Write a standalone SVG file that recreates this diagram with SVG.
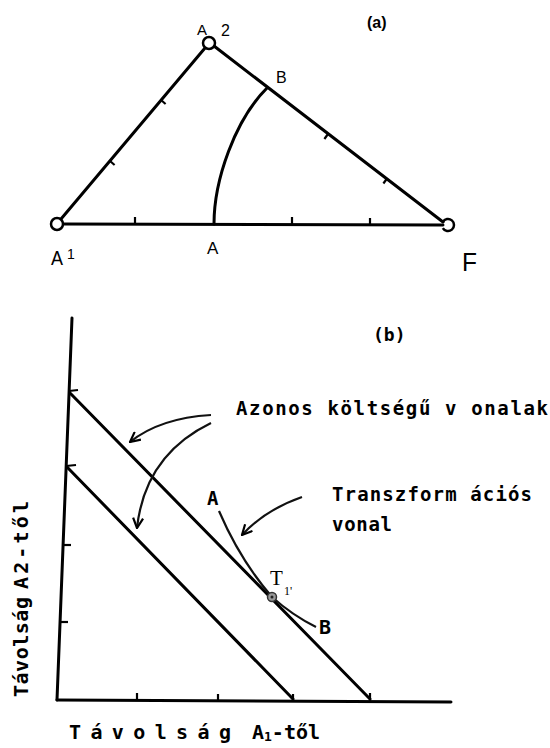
<svg xmlns="http://www.w3.org/2000/svg" width="550" height="748" viewBox="0 0 550 748">
<defs>
<style>
.ln{stroke:#000;stroke-width:3;fill:none;stroke-linecap:round}
.tk{stroke:#000;stroke-width:2.2;fill:none}
.cv{stroke:#111;stroke-width:2.2;fill:none}
.nd{stroke:#000;stroke-width:2.5;fill:#fff}
.ndo{stroke:#000;stroke-width:2.5;fill:none}
.sa{font-family:"Liberation Sans","DejaVu Sans",sans-serif;fill:#000}
.tw{font-family:"DejaVu Sans Mono","Liberation Mono",monospace;font-weight:bold;fill:#000}
.tn{font-family:"Liberation Serif","DejaVu Serif",serif;fill:#000}
</style>
<marker id="ah" viewBox="0 0 12 12" refX="11" refY="6" markerWidth="12" markerHeight="12" markerUnits="userSpaceOnUse" orient="auto">
<path d="M1,1 L11,6 L1,11" fill="none" stroke="#000" stroke-width="2.2"/>
</marker>
</defs>
<rect width="550" height="748" fill="#fff"/>

<!-- Panel (a) -->
<g id="connectors-a">
<line class="ln" x1="61" y1="219" x2="205" y2="48"/>
<line class="ln" x1="214" y1="46" x2="443" y2="222"/>
<line class="ln" x1="63" y1="224" x2="443" y2="225"/>
<path class="ln" d="M214,224 C214,180 235,120 267,88"/>
<g class="tk">
<line x1="161" y1="100" x2="165.6" y2="104"/>
<line x1="110" y1="161" x2="114.6" y2="165"/>
<line x1="328" y1="134" x2="324.4" y2="139"/>
<line x1="387" y1="178.5" x2="383.4" y2="183.5"/>
<line x1="135" y1="224" x2="135" y2="217"/>
<line x1="292" y1="224" x2="292" y2="217"/>
<line x1="370" y1="225" x2="370" y2="218"/>
</g>
</g>
<g id="node-A2"><circle class="nd" cx="209" cy="43" r="6"/><text class="sa" x="197" y="35" font-size="15">A</text><text class="sa" x="221" y="36" font-size="16">2</text></g>
<g id="node-A1"><circle class="nd" cx="57" cy="224" r="6"/><text class="sa" x="51" y="265" font-size="21" textLength="12" lengthAdjust="spacingAndGlyphs">A</text><text class="sa" x="67" y="259" font-size="14">1</text></g>
<g id="node-F"><path class="ndo" d="M442.8,222 A6,6 0 1 1 442.8,228"/><text class="sa" x="462" y="271" font-size="25" textLength="15" lengthAdjust="spacingAndGlyphs">F</text></g>
<g id="node-B"><text class="sa" x="276" y="83" font-size="16">B</text></g>
<g id="node-A"><text class="sa" x="207" y="254" font-size="17">A</text></g>
<text class="sa" x="367" y="28" font-size="16" font-weight="bold">(a)</text>

<!-- Panel (b) -->
<g id="axes">
<line class="ln" x1="72" y1="318" x2="57" y2="700"/>
<line class="ln" x1="57" y1="700" x2="451" y2="702"/>
<g class="tk">
<line x1="69" y1="391" x2="78" y2="390"/>
<line x1="66" y1="466" x2="76" y2="465"/>
<line x1="63" y1="545" x2="71" y2="545"/>
<line x1="60" y1="622" x2="68" y2="622"/>
<line x1="137" y1="700" x2="137" y2="693"/>
<line x1="218" y1="701" x2="218" y2="694"/>
<line x1="293" y1="701" x2="293" y2="694"/>
<line x1="370" y1="701" x2="370" y2="693"/>
</g>
</g>
<g id="connectors-b">
<line class="ln" x1="70" y1="393" x2="370" y2="699"/>
<line class="ln" x1="67" y1="467" x2="293" y2="699"/>
<path class="cv" d="M219,511 Q240,560 272,597 Q292,615 316,627"/>
<path class="cv" d="M211,415 Q160,418 130,442" marker-end="url(#ah)"/>
<path class="cv" d="M211,423 Q145,455 137,528" marker-end="url(#ah)"/>
<path class="cv" d="M302,497 Q265,510 242,535" stroke-width="1.8" marker-end="url(#ah)"/>
</g>
<g id="node-T1"><circle cx="272" cy="597" r="4.5" fill="#999" stroke="#333" stroke-width="1.5"/><circle cx="272" cy="597" r="1.5" fill="#222"/><text class="tn" x="270" y="585" font-size="21">T</text><text class="tn" x="284" y="595" font-size="12">1'</text></g>
<g id="label-A"><text class="tw" x="207" y="505" font-size="19">A</text></g>
<g id="label-B"><text class="tw" x="319" y="634" font-size="20">B</text></g>
<text class="tw" x="373" y="341" font-size="18">(b)</text>
<text class="tw" x="236" y="415" font-size="19" textLength="312" lengthAdjust="spacing">Azonos költségű v onalak</text>
<text class="tw" x="332" y="501" font-size="19" textLength="200" lengthAdjust="spacing">Transzform ációs</text>
<text class="tw" x="332" y="531" font-size="19" textLength="60" lengthAdjust="spacing">vonal</text>
<g id="x-label"><text class="tw" x="69" y="739" font-size="20" textLength="162" lengthAdjust="spacing">Távolság</text><text class="tw" x="252" y="739" font-size="20" textLength="68" lengthAdjust="spacing">A<tspan font-size="13" dy="2">1</tspan><tspan dy="-2">-től</tspan></text></g>
<g id="y-label" transform="translate(28,697) rotate(-90)"><text class="tw" x="0" y="0" font-size="20" textLength="100" lengthAdjust="spacing">Távolság</text><text class="tw" x="108" y="0" font-size="20" textLength="88" lengthAdjust="spacing">A2-től</text></g>
</svg>
